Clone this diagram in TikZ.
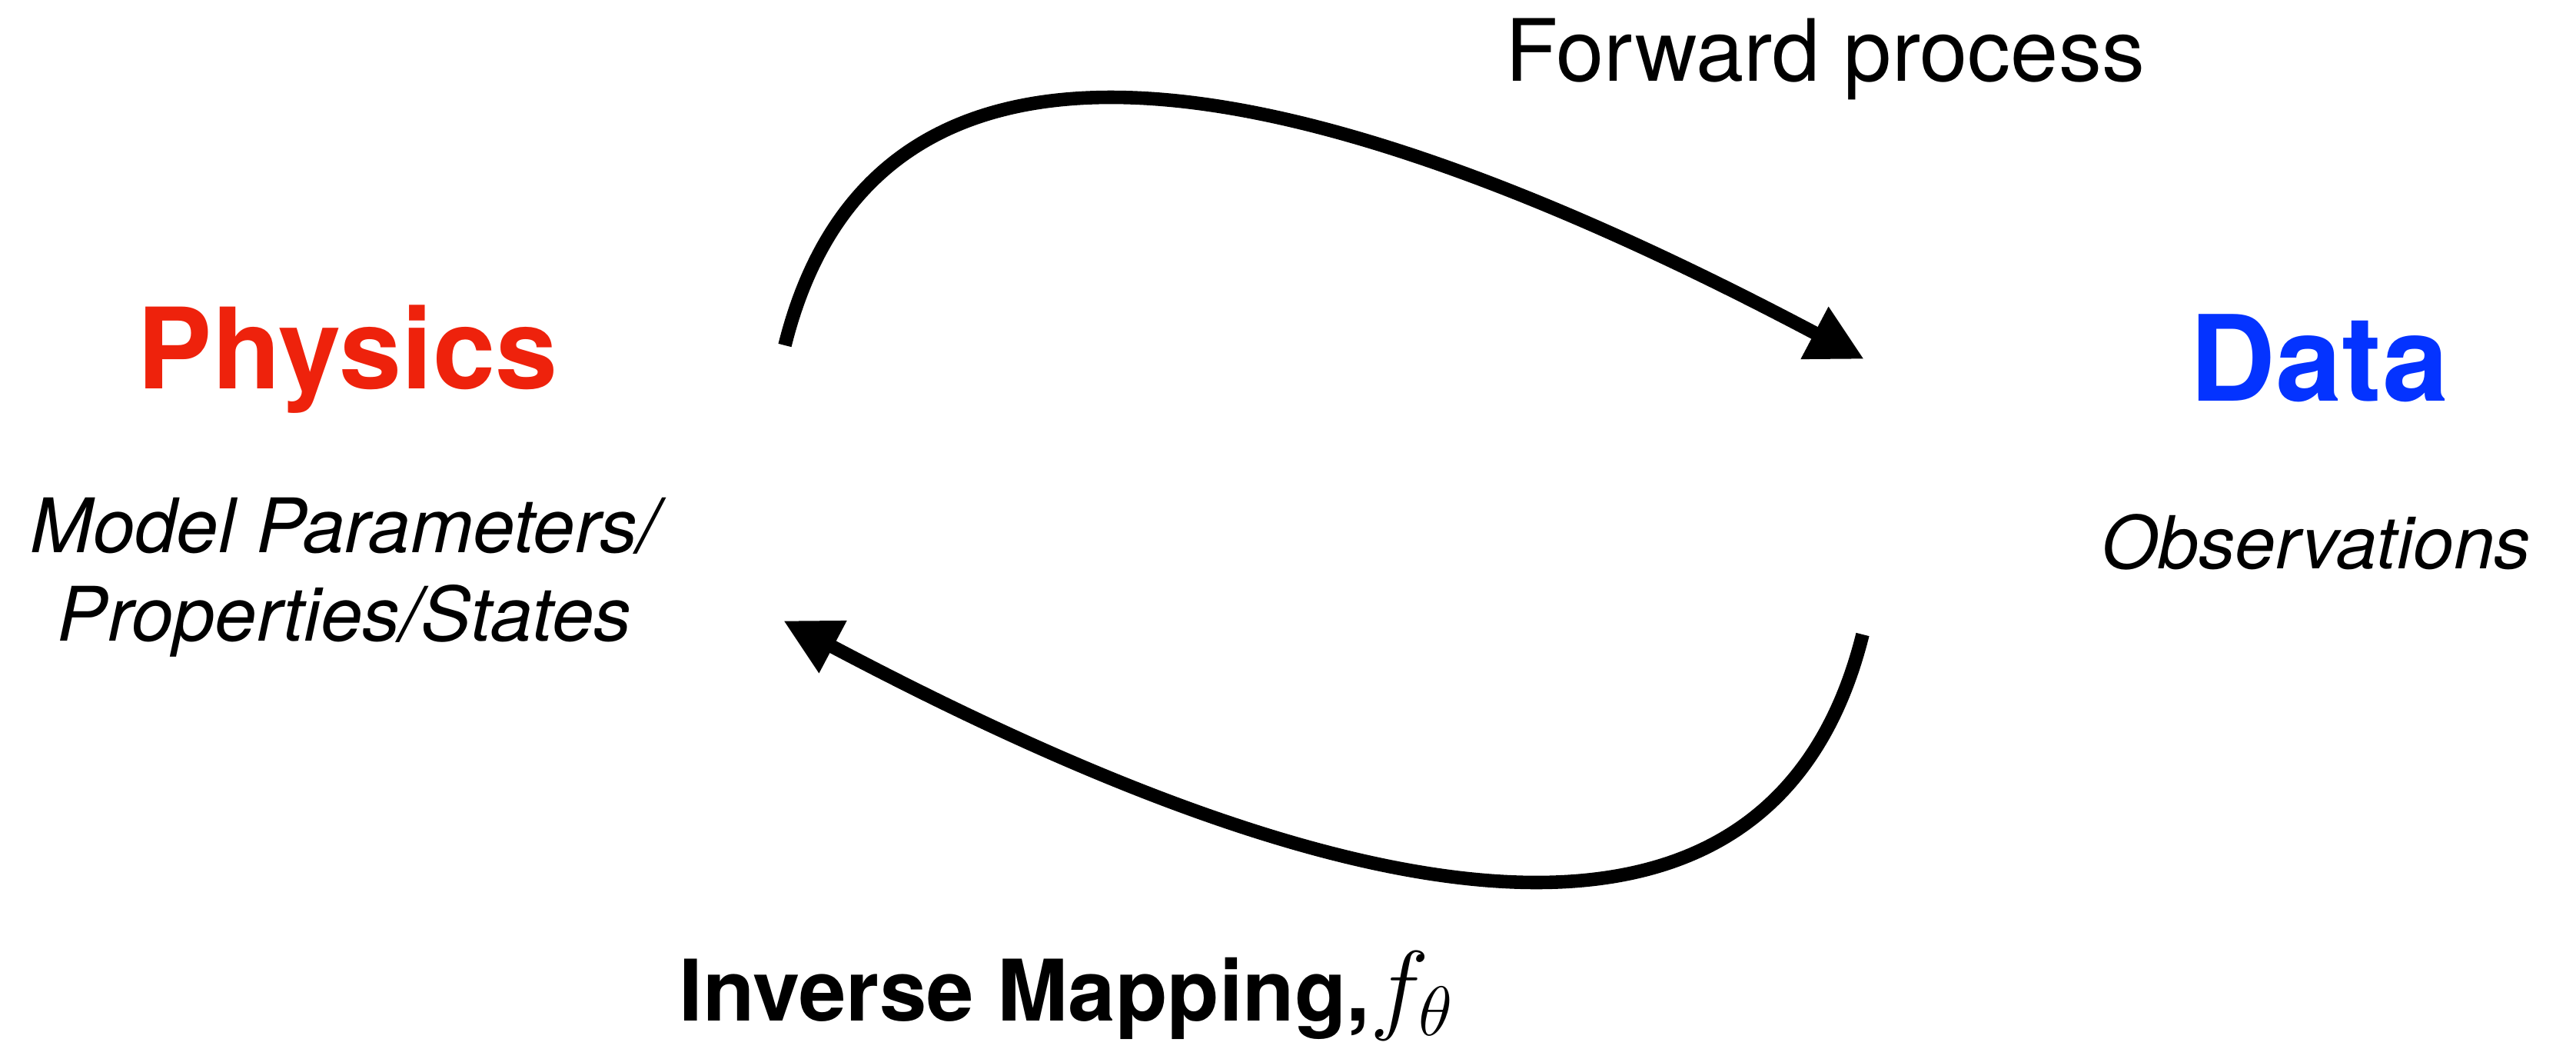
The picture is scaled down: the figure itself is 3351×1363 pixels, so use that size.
\documentclass[tikz,border=0pt]{standalone}
\usepackage{fix-cm}
\usepackage{fontspec}
\setmainfont{TeX Gyre Heros}
\usetikzlibrary{arrows.meta,positioning}
\definecolor{physred}{HTML}{EE220C}
\definecolor{datablue}{HTML}{0433FF}
\tikzset{
  >={Triangle[length=7.3mm,width=7.2mm]},
  flow/.style={->,line width=5pt},
  heading/.style={inner sep=0pt,font=\fontsize{41.5}{48}\selectfont\bfseries},
  detail/.style={inner sep=0pt,align=center,font=\fontsize{27.8}{32.7}\selectfont\itshape},
  caption/.style={inner sep=0pt,font=\fontsize{31.8}{38}\selectfont}
}

\begin{document}
\begin{tikzpicture}[x=0.01cm,y=-0.01cm]
  \useasboundingbox (0,0) rectangle (3351,1363);
  \node[heading,text=physred,anchor=base] (phys) at (452,505) {Physics};
  \node[detail,anchor=base] (params) at (448,833) {Model Parameters/\\Properties/States};
  \node[heading,text=datablue,anchor=base,font=\fontsize{44}{50}\selectfont\bfseries] (data) at (3017,521) {Data};
  \node[detail,anchor=base,font=\fontsize{27}{32}\selectfont\itshape] (obs) at (3013,739) {Observations};
  \node[caption,anchor=base] (fwd) at (2374,105) {Forward process};
  \node[caption,anchor=base west,font=\fontsize{31.4}{38}\selectfont\bfseries] (inv) at (883,1327)
    {Inverse Mapping,\fontsize{37}{44}\selectfont$f_\theta$};
  % free ends of the two arrows
  \coordinate (fwdfrom) at (1021,449);
  \coordinate (fwdto) at (2425,467);
  \coordinate (invfrom) at (2423,825);
  \coordinate (invto) at (1019,807);
  \draw[flow] (fwdfrom) .. controls (1133,0) and (1624,43) .. (fwdto);
  \draw[flow] (invfrom) .. controls (2311,1274) and (1820,1231) .. (invto);
\end{tikzpicture}
\end{document}
